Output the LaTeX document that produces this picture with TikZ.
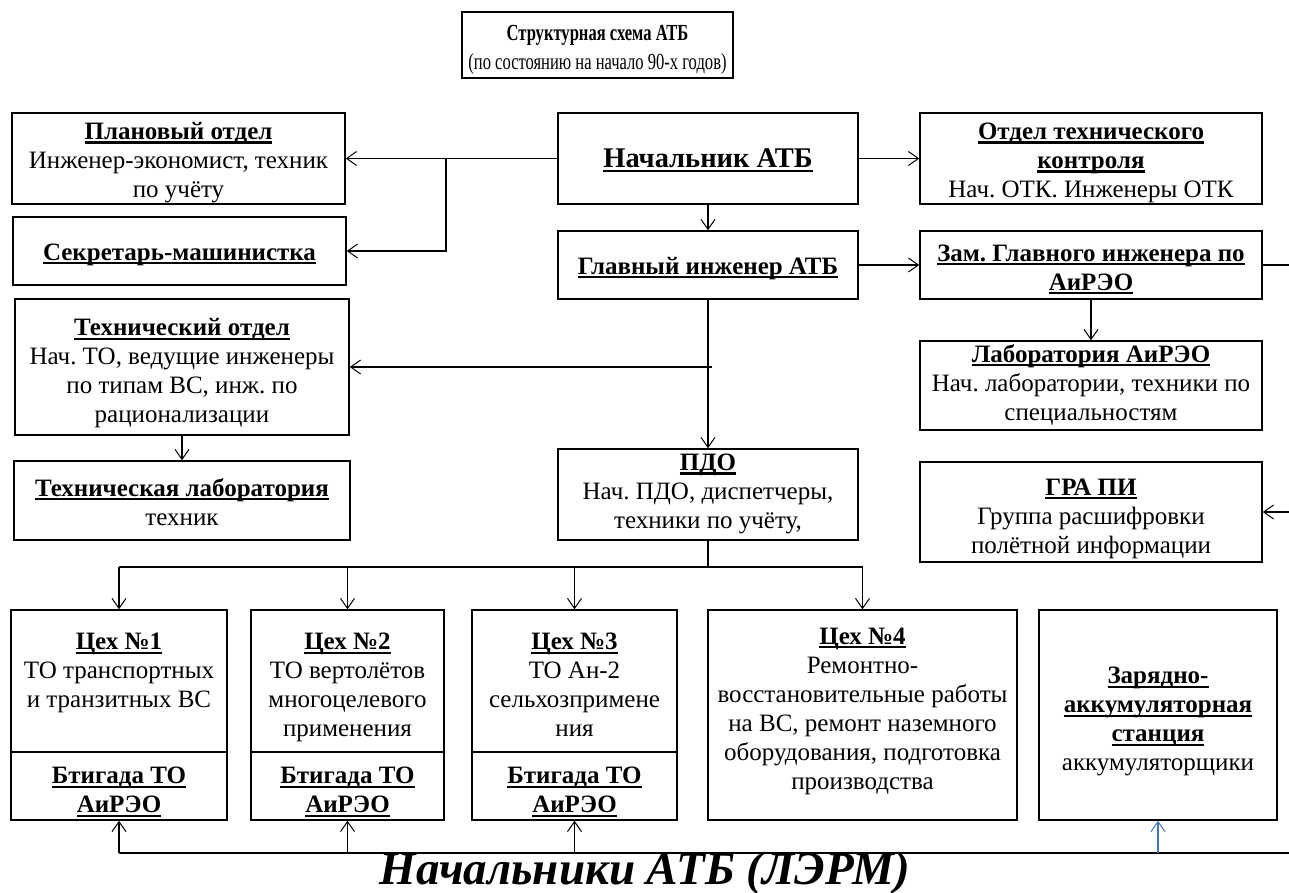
\documentclass[tikz,border=0pt]{standalone}
\usepackage{fontspec}
\setmainfont{Liberation Serif}
\newfontfamily\bodyfont{Liberation Serif}
\newfontfamily\condfont{Liberation Serif}[FakeStretch=0.72]
\usetikzlibrary{arrows.meta}
\frenchspacing
\newsavebox\uheadbox
\newcommand\uhead[1]{\sbox\uheadbox{\bfseries #1}\rlap{\rule[-0.16em]{\wd\uheadbox}{0.085em}}\usebox\uheadbox}
\newcommand\tsr{\rule{0pt}{31pt}}
\newcommand\tsrs{\rule{0pt}{26.5pt}}
\tikzset{
  box/.style={draw, line width=1.5pt, inner sep=0pt, align=center,
    font=\bodyfont\fontsize{25}{29}\selectfont,
    execute at begin node={\rule{0pt}{25pt}}, execute at end node={\rule[-6.4pt]{0pt}{6.4pt}}},
  txt/.style={inner sep=0pt, align=center},
  arr/.style={line width=1.2pt, -{Straight Barb[length=10pt,width=14pt,line width=1pt]}},
  conn/.style={line width=1.2pt},
}
\begin{document}
\begin{tikzpicture}[x=1pt,y=-1pt]
\useasboundingbox (0,0) rectangle (1289,893);
% title
\node[box, minimum width=271pt, minimum height=66pt, font=\condfont\fontsize{23}{28.5}\selectfont] (title) at (597.5,45)
  {\rule{0pt}{26pt}\textbf{Структурная схема АТБ}\\(по состоянию на начало 90-х годов)};
% center column
\node[box, minimum width=300pt, minimum height=91pt] (nach) at (708,158.5)
  {\fontsize{28.5}{30}\selectfont\uhead{Начальник АТБ}};
\node[box, minimum width=300pt, minimum height=68pt] (glav) at (708,265)
  {\uhead{Главный инженер АТБ}};
\node[box, minimum width=300pt, minimum height=91pt] (pdo) at (708,494.5)
  {\uhead{ПДО}\\Нач. ПДО, диспетчеры,\\техники по учёту,};
% right column
\node[box, minimum width=342pt, minimum height=91pt] (otk) at (1091,158.5)
  {\tsrs\uhead{Отдел технического}\\\uhead{контроля}\\Нач. ОТК. Инженеры ОТК};
\node[box, minimum width=342pt, minimum height=68pt] (zam) at (1091,265)
  {\rule{0pt}{28pt}\uhead{Зам. Главного инженера по}\\\uhead{АиРЭО}};
\node[box, minimum width=342pt, minimum height=89pt] (lab) at (1091,385.5)
  {\uhead{Лаборатория АиРЭО}\\Нач. лаборатории, техники по\\специальностям};
\node[box, minimum width=342pt, minimum height=100pt] (gra) at (1091,512)
  {\tsr\uhead{ГРА ПИ}\\Группа расшифровки\\полётной информации};
% left column
\node[box, minimum width=333pt, minimum height=91pt] (plan) at (178.5,158.5)
  {\tsrs\uhead{Плановый отдел}\\Инженер-экономист, техник\\по учёту};
\node[box, minimum width=333pt, minimum height=68pt] (sec) at (179.5,251)
  {\uhead{Секретарь-машинистка}};
\node[box, minimum width=334pt, minimum height=136pt] (tod) at (182,367)
  {\tsr\uhead{Технический отдел}\\Нач. ТО, ведущие инженеры\\по типам ВС, инж. по\\рационализации};
\node[box, minimum width=336pt, minimum height=79pt] (tlab) at (182,500.5)
  {\rule{0pt}{27pt}\uhead{Техническая лаборатория}\\техник};
% workshops
\node[box, minimum width=216pt, minimum height=142pt] (c1) at (119,681)
  {\tsr\uhead{Цех №1}\\ТО транспортных\\и транзитных ВС\\\mbox{}};
\node[box, minimum width=216pt, minimum height=68pt] (c1b) at (119,786)
  {\tsr\uhead{Бтигада ТО}\\\uhead{АиРЭО}};
\node[box, minimum width=193pt, minimum height=142pt] (c2) at (347.5,681)
  {\tsr\uhead{Цех №2}\\ТО вертолётов\\многоцелевого\\применения};
\node[box, minimum width=193pt, minimum height=68pt] (c2b) at (347.5,786)
  {\tsr\uhead{Бтигада ТО}\\\uhead{АиРЭО}};
\node[box, minimum width=205pt, minimum height=142pt] (c3) at (574.5,681)
  {\tsr\uhead{Цех №3}\\ТО Ан-2\\сельхозпримене\\ния};
\node[box, minimum width=205pt, minimum height=68pt] (c3b) at (574.5,786)
  {\tsr\uhead{Бтигада ТО}\\\uhead{АиРЭО}};
\node[box, minimum width=309pt, minimum height=210pt] (c4) at (862.5,715)
  {\tsr\uhead{Цех №4}\\Ремонтно-\\восстановительные работы\\на ВС, ремонт наземного\\оборудования, подготовка\\производства\rule[-28pt]{0pt}{0pt}};
\node[box, minimum width=238pt, minimum height=210pt] (zar) at (1158,715)
  {\tsr\uhead{Зарядно-}\\\uhead{аккумуляторная}\\\uhead{станция}\\аккумуляторщики};
% bottom caption
\node[txt, anchor=base, font=\bodyfont\fontsize{47}{49}\selectfont\bfseries\itshape] (lerm) at (645,884) {Начальники АТБ (ЛЭРМ)};
% junction coordinates
\coordinate (jl) at (446,158.5);
\coordinate (jz) at (1289,265);
\coordinate (jg) at (1289,512);
\coordinate (jt) at (712,367);
\coordinate (jp) at (708,567);
\coordinate (dl) at (119,567);
\coordinate (dr) at (862.5,567);
\coordinate (bl) at (119,853);
\coordinate (br) at (1289,853);
% connectors
\draw[arr] (nach.west) -- (plan.east);
\draw[arr] (jl) |- (sec.east);
\draw[arr] (nach.east) -- (otk.west);
\draw[arr] (nach.south) -- (glav.north);
\draw[arr] (glav.east) -- (zam.west);
\draw[conn] (zam.east) -- (jz);
\draw[arr] (zam.south) -- (lab.north);
\draw[arr] (jg) -- (gra.east);
\draw[arr] (glav.south) -- (pdo.north);
\draw[arr] (jt) -- (tod.east);
\draw[arr] (tod.south) -- (tlab.north);
\draw[conn] (pdo.south) -- (jp);
\draw[conn] (dl) -- (dr);
\draw[arr] (dl) -- (c1.north);
\draw[arr] (dl -| c2.north) -- (c2.north);
\draw[arr] (dl -| c3.north) -- (c3.north);
\draw[arr] (dr) -- (c4.north);
\draw[conn, line width=1.6pt] (bl) -- (br);
\draw[arr] (bl) -- (c1b.south);
\draw[arr] (bl -| c2b.south) -- (c2b.south);
\draw[arr] (bl -| c3b.south) -- (c3b.south);
\draw[arr, color={rgb,255:red,68;green,114;blue,196}] (bl -| zar.south) -- (zar.south);
\end{tikzpicture}
\end{document}
